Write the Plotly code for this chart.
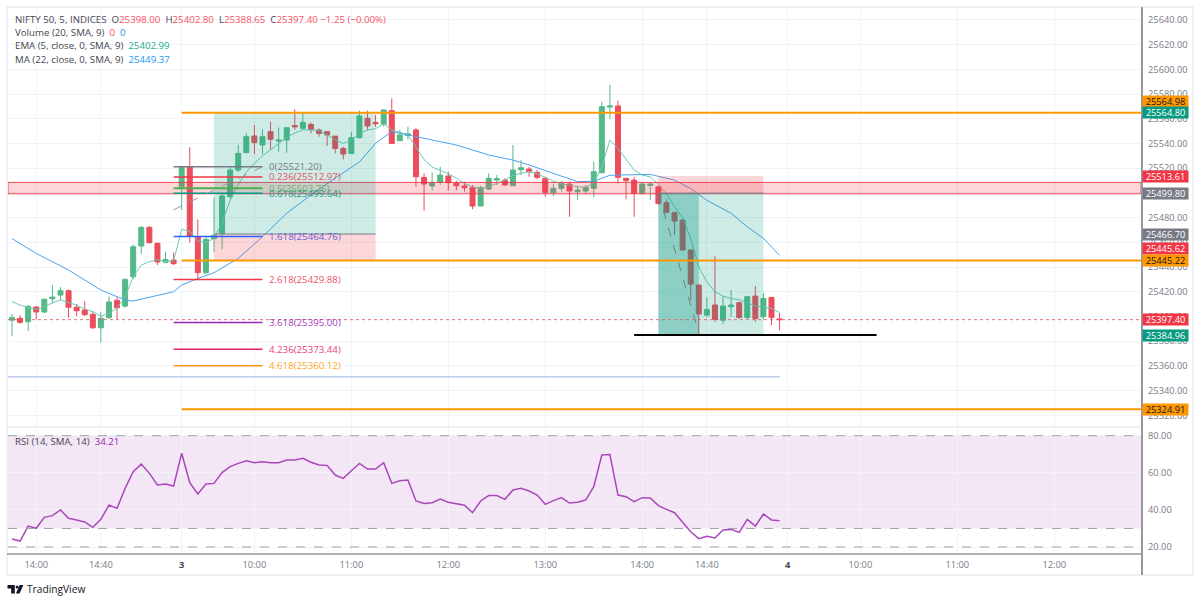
import plotly.graph_objects as go

# ---------------- DATA ----------------
bar_index = list(range(96))  # 5-minute bars: day 2 13:45 .. 15:25, day 3 09:15 .. 15:25

opens = [25397.0, 25398.5, 25395.7, 25407.6, 25403.6, 25414.3, 25417.3, 25420.8, 25407.4, 25405.2,
         25401.7, 25390.8, 25399.0, 25413.0, 25408.4, 25432.1, 25457.0, 25472.1, 25459.2, 25443.8,
         25445.7,
         25505.0, 25521.0, 25464.5, 25435.4, 25463.0, 25467.3, 25497.0, 25518.5, 25532.6, 25546.1,
         25538.8, 25549.6, 25542.0, 25542.8, 25554.5, 25552.3, 25555.5, 25550.9, 25549.6, 25546.0,
         25536.0, 25532.0, 25544.7, 25560.4, 25557.0, 25555.5, 25566.6, 25542.3, 25546.5, 25551.0,
         25512.6, 25505.6, 25508.5, 25513.7, 25507.7, 25505.6, 25504.2, 25489.4, 25503.1, 25510.4,
         25510.4, 25505.8, 25518.8, 25519.3, 25516.6, 25511.8, 25500.2, 25503.7, 25507.2, 25501.0,
         25501.5, 25503.7, 25516.4, 25569.5, 25570.4, 25511.8, 25510.4, 25499.6, 25506.1, 25505.0,
         25492.1, 25484.0, 25478.0, 25453.8, 25425.4, 25401.1, 25409.2, 25397.0, 25407.9, 25411.1,
         25399.2, 25416.5, 25399.8, 25415.4, 25398.0]
highs = [25402.0, 25401.0, 25409.2, 25408.4, 25414.3, 25425.4, 25423.8, 25421.9, 25410.0, 25412.5,
         25404.6, 25403.8, 25416.0, 25415.5, 25430.9, 25458.4, 25473.2, 25473.2, 25459.7, 25452.4,
         25451.9,
         25521.2, 25536.9, 25478.6, 25464.5, 25496.5, 25499.7, 25521.2, 25539.0, 25548.2, 25555.0,
         25551.5, 25557.7, 25553.0, 25552.8, 25567.6, 25565.0, 25557.0, 25552.3, 25549.6, 25546.0,
         25537.4, 25549.6, 25566.6, 25566.6, 25563.0, 25567.9, 25576.6, 25551.0, 25553.6, 25552.3,
         25515.8, 25516.6, 25521.2, 25517.2, 25509.9, 25509.1, 25506.4, 25505.8, 25515.8, 25514.5,
         25511.8, 25538.8, 25526.6, 25521.2, 25518.5, 25513.1, 25507.7, 25509.6, 25509.1, 25505.6,
         25506.4, 25525.3, 25573.9, 25587.4, 25574.7, 25511.8, 25513.1, 25508.0, 25508.3, 25505.6,
         25494.8, 25484.8, 25478.5, 25454.3, 25426.0, 25415.4, 25448.9, 25416.5, 25421.4, 25412.0,
         25416.0, 25424.6, 25418.6, 25415.4, 25402.8]
lows = [25384.0, 25394.0, 25388.2, 25397.6, 25402.5, 25410.6, 25413.3, 25399.0, 25400.3, 25400.6,
        25390.0, 25379.0, 25397.9, 25397.7, 25407.0, 25430.3, 25450.5, 25459.2, 25441.6, 25443.0,
        25441.6,
        25486.3, 25459.7, 25430.0, 25434.3, 25452.0, 25454.3, 25495.6, 25517.0, 25532.0, 25531.5,
        25531.5, 25534.7, 25533.4, 25532.6, 25551.0, 25551.0, 25548.2, 25545.5, 25538.0, 25532.0,
        25527.2, 25531.5, 25544.2, 25550.9, 25553.6, 25553.6, 25540.1, 25542.0, 25543.4, 25505.0,
        25485.6, 25501.8, 25506.4, 25501.8, 25502.3, 25501.0, 25486.7, 25489.4, 25502.3, 25506.4,
        25505.6, 25505.8, 25514.5, 25513.1, 25511.0, 25496.9, 25497.5, 25501.0, 25480.7, 25494.2,
        25499.0, 25496.4, 25515.8, 25559.6, 25507.7, 25494.8, 25480.7, 25498.5, 25494.2, 25490.2,
        25483.5, 25465.9, 25453.5, 25413.3, 25384.96, 25399.8, 25395.7, 25393.8, 25399.8, 25398.0,
        25398.0, 25395.7, 25397.6, 25393.0, 25388.65]
closes = [25399.0, 25395.2, 25408.2, 25403.6, 25413.9, 25415.7, 25420.8, 25407.4, 25404.6, 25401.4,
          25390.8, 25398.5, 25411.7, 25407.0, 25430.0, 25456.4, 25472.1, 25459.7, 25444.1, 25446.2,
          25442.7,
          25520.5, 25465.1, 25435.4, 25462.4, 25465.5, 25497.5, 25518.5, 25532.0, 25545.5, 25540.7,
          25545.5, 25543.4, 25542.8, 25552.8, 25553.5, 25557.1, 25551.5, 25548.2, 25546.9, 25536.0,
          25531.5, 25544.7, 25562.3, 25554.2, 25556.0, 25567.1, 25540.1, 25546.9, 25547.8, 25513.1,
          25507.2, 25508.3, 25514.4, 25508.3, 25505.8, 25504.2, 25489.4, 25504.2, 25511.8, 25511.5,
          25506.4, 25518.5, 25520.4, 25517.2, 25512.6, 25500.4, 25503.7, 25507.7, 25501.5, 25502.3,
          25504.5, 25517.2, 25569.8, 25570.4, 25512.6, 25509.9, 25499.6, 25507.2, 25507.2, 25491.5,
          25484.3, 25477.2, 25453.8, 25426.2, 25402.0, 25405.7, 25397.6, 25408.4, 25409.2, 25399.2,
          25416.0, 25398.4, 25414.6, 25399.2, 25397.4]

ema5 = [25412.0, 25409.2, 25407.4, 25405.8, 25407.9, 25411.0, 25413.3, 25411.0, 25409.2, 25406.0,
        25403.8, 25400.3, 25402.5, 25406.6, 25416.0, 25432.0, 25441.6, 25444.3, 25446.0, 25444.5,
        25445.0,
        25470.5, 25469.0, 25461.0, 25460.0, 25463.0, 25476.0, 25494.0, 25507.0, 25517.0, 25524.0,
        25530.0, 25535.0, 25540.0, 25545.0, 25548.5, 25551.0, 25551.0, 25550.5, 25547.0, 25543.0,
        25540.0, 25542.8, 25548.0, 25550.9, 25552.0, 25556.0, 25551.0, 25549.0, 25547.0, 25537.0,
        25527.0, 25521.0, 25518.5, 25515.5, 25512.0, 25507.5, 25505.0, 25503.7, 25505.0, 25507.5,
        25510.4, 25514.0, 25516.0, 25517.2, 25515.5, 25512.5, 25509.5, 25507.5, 25506.0, 25505.0,
        25504.5, 25508.0, 25521.2, 25542.8, 25536.0, 25527.0, 25518.5, 25514.5, 25513.0, 25507.0,
        25499.0, 25489.0, 25480.0, 25463.0, 25440.0, 25428.0, 25420.0, 25416.5, 25414.5, 25413.5,
        25411.0, 25408.5, 25407.5, 25406.6, 25403.0]

ma22_idx = [0, 3, 7, 11, 14, 15, 20, 21, 23, 25, 28, 31, 34, 37, 40, 43, 45, 47, 49, 51,
            55, 59, 62, 64, 67, 70, 72, 74, 79, 82, 84, 86, 89, 91, 93, 95]
ma22_val = [25463.0, 25451.0, 25437.6, 25421.4, 25413.3, 25412.5, 25420.0, 25425.4, 25430.8, 25435.4,
            25447.0, 25464.5, 25483.5, 25498.3, 25512.0, 25525.0, 25540.2, 25549.6, 25546.9, 25544.2,
            25538.8, 25530.7, 25526.6, 25522.6, 25515.8, 25509.1, 25509.5, 25514.3, 25515.0, 25510.4,
            25503.5, 25494.0, 25483.5, 25472.6, 25463.2, 25449.4]

rsi14 = [24.3, 23.2, 31.3, 30.1, 36.0, 36.9, 40.0, 35.5, 34.6, 33.5,
         30.6, 34.9, 42.6, 40.9, 51.6, 60.6, 64.7, 59.7, 53.4, 54.0,
         52.9,
         70.5, 54.7, 48.6, 54.0, 54.3, 60.1, 63.3, 65.1, 66.5, 65.4,
         66.0, 65.4, 65.4, 66.9, 66.9, 67.8, 65.7, 64.2, 64.0, 58.8,
         57.0, 61.1, 65.1, 62.0, 62.0, 65.4, 54.3, 55.7, 56.1, 44.8,
         43.5, 43.9, 45.9, 44.1, 43.3, 42.5, 38.5, 44.8, 47.7, 47.7,
         45.7, 50.7, 51.6, 50.2, 48.0, 43.0, 45.0, 46.6, 43.7, 44.1,
         45.3, 52.5, 69.6, 69.8, 48.0, 47.1, 44.4, 46.6, 46.4, 42.3,
         40.3, 38.5, 33.3, 28.2, 24.5, 25.8, 24.9, 29.2, 29.5, 27.9,
         34.9, 31.3, 37.8, 34.6, 34.2]

tick_idx = [3, 11, 21, 30, 42, 54, 66, 78, 86, 96, 105, 117, 129]
tick_text = ["14:00", "14:40", "<b><span style='color:#434651'>3</span></b>", "10:00", "11:00",
             "12:00", "13:00", "14:00", "14:40", "<b><span style='color:#434651'>4</span></b>",
             "10:00", "11:00", "12:00"]
price_ticks = list(range(25320, 25641, 20))
rsi_ticks = [20, 40, 60, 80]

fib_prices = [25521.20, 25512.97, 25503.76, 25499.64, 25464.76, 25429.88, 25395.00, 25373.44, 25360.12]
fib_names = ["0", "0.236", "0.5", "0.618", "1.618", "2.618", "3.618", "4.236", "4.618"]
fib_line_colors = ["#787b86", "#f23645", "#4caf50", "#089981", "#2962ff", "#f23645", "#9c27b0", "#e91e63", "#ff9800"]
fib_text_colors = ["#787b86", "#e8505f", "#66b36a", "#1f9a84", "#6a60dc", "#f0506a", "#a43fba", "#e8437a", "#ffa726"]
fib_start, fib_end = 20, 31
fib_trend = (25486.33, 25521.20)

orange_lines = [25564.98, 25445.22, 25324.91]
long_pos = dict(start=25, end=45, entry=25466.70, target=25564.80, stop=25445.62)
short_pos = dict(start=80, end=93, entry=25499.80, target=25384.96, stop=25513.61, hit=85)
band = (25499.3, 25508.5)
support_line = dict(price=25384.96, start=77, end=107)
blue_line = dict(price=25351.2, end=95)
last_price = 25397.40

axis_labels = [  # (value, background, text colour, shift in px)
    (25564.98, "#ff9800", "#131722", 11),
    (25564.80, "#089981", "#ffffff", 0),
    (25513.61, "#f23645", "#ffffff", 0),
    (25499.80, "#787b86", "#ffffff", 0),
    (25466.70, "#787b86", "#ffffff", 0),
    (25445.62, "#f23645", "#ffffff", 12),
    (25445.22, "#ff9800", "#131722", 0),
    (25397.40, "#f23645", "#ffffff", 0),
    (25384.96, "#089981", "#ffffff", 0),
    (25324.91, "#ff9800", "#131722", 0),
]

# ---------------- STYLE ----------------
FONT = "Open Sans, sans-serif"
FS = 9.3
UP, DN = "#53b987", "#eb4d5c"
GRID = "#f0f3fa"
L, T, W, H = 8, 8, 1133, 546
XR = [-0.495, 139.73]
PR = [25311.3, 25649.7]
RR = [16.23, 84.15]


def pxx(x):
    return (x - L) / W


def pxy(y):
    return 1 - (y - T) / H


fig = go.Figure()
fig.add_trace(go.Candlestick(
    x=bar_index, open=opens, high=highs, low=lows, close=closes,
    increasing=dict(line=dict(color=UP, width=1), fillcolor=UP),
    decreasing=dict(line=dict(color=DN, width=1), fillcolor=DN),
    whiskerwidth=0, xaxis="x", yaxis="y", showlegend=False, hoverinfo="skip"))
fig.add_trace(go.Scatter(x=bar_index, y=ema5, mode="lines", line=dict(color="#6ccbb3", width=1),
                         xaxis="x", yaxis="y", showlegend=False, hoverinfo="skip"))
fig.add_trace(go.Scatter(x=ma22_idx, y=ma22_val, mode="lines", line=dict(color="#4aa3ef", width=1),
                         xaxis="x", yaxis="y", showlegend=False, hoverinfo="skip"))
fig.add_trace(go.Scatter(x=bar_index, y=rsi14, mode="lines", line=dict(color="#ab47bc", width=1.5),
                         xaxis="x", yaxis="y2", showlegend=False, hoverinfo="skip"))

shapes = []


def line(x0, y0, x1, y1, color, width=1, dash="solid", yref="y", layer="above"):
    shapes.append(dict(type="line", xref="x", yref=yref, x0=x0, y0=y0, x1=x1, y1=y1,
                       line=dict(color=color, width=width, dash=dash), layer=layer))


def rect(x0, x1, y0, y1, fill, yref="y", layer="above", lc=None, lw=0):
    shapes.append(dict(type="rect", xref="x", yref=yref, x0=x0, x1=x1, y0=y0, y1=y1,
                       fillcolor=fill, line=dict(color=lc or fill, width=lw), layer=layer))


def pline(x0, y0, x1, y1, color, width=1):
    shapes.append(dict(type="line", xref="paper", yref="paper", x0=pxx(x0), y0=pxy(y0),
                       x1=pxx(x1), y1=pxy(y1), line=dict(color=color, width=width), layer="above"))


# RSI pane
rect(XR[0], XR[1], 30, 80, "#f3e6f5", yref="y2", layer="below")
for v in (80, 30, 20):
    line(XR[0], v, XR[1], v, "#9da0a8", 1, "dash", yref="y2")

# full-width pink band
rect(XR[0], XR[1], band[0], band[1], "rgba(242,54,69,0.2)", lc="rgba(242,54,69,0.9)", lw=1)

# long position
lp = long_pos
rect(lp["start"], lp["end"], lp["entry"], lp["target"], "rgba(8,153,129,0.2)")
rect(lp["start"], lp["end"], lp["stop"], lp["entry"], "rgba(242,54,69,0.2)")
line(lp["start"], lp["entry"], lp["end"], lp["entry"], "#787b86", 1)

# short position
sp = short_pos
rect(sp["start"], sp["end"], sp["entry"], sp["stop"], "rgba(242,54,69,0.2)")
rect(sp["start"], sp["end"], sp["target"], sp["entry"], "rgba(8,153,129,0.2)")
rect(sp["start"], sp["hit"], sp["target"], sp["entry"], "rgba(8,153,129,0.33)")
line(sp["start"], sp["entry"], sp["end"], sp["entry"], "#787b86", 1)
line(sp["start"], sp["entry"], sp["hit"], sp["target"] + 1.5, "#787b86", 1, "dash")

# fib retracement
for p, c in zip(fib_prices, fib_line_colors):
    line(fib_start, p, fib_end, p, c, 2 if c == "#4caf50" else 1.5)
line(fib_start, fib_trend[0], fib_end, fib_trend[1], "#9598a1", 1, "dash")

# horizontal rays
for p in orange_lines:
    line(21, p, XR[1], p, "#ff9800", 2)
line(support_line["start"], support_line["price"], support_line["end"], support_line["price"], "#000000", 2)
line(XR[0], blue_line["price"], blue_line["end"], blue_line["price"], "#bcccea", 1.5)
line(XR[0], last_price, XR[1], last_price, "rgba(235,77,92,0.8)", 1, "dot")

# frame / axis lines
shapes.append(dict(type="rect", xref="paper", yref="paper", x0=pxx(7), x1=pxx(1193), y0=pxy(575), y1=pxy(7),
                   line=dict(color="#e0e3eb", width=1), fillcolor="rgba(0,0,0,0)", layer="above"))
pline(7, 427, 1141, 427, "#e0e3eb", 1)
pline(7, 554, 1142, 554, "#9598a1", 1.5)
pline(1142, 7, 1142, 575, "#9598a1", 2)


# TradingView logo
def ppath(pts):
    return "M " + " L ".join(f"{pxx(a):.5f},{pxy(b):.5f}" for a, b in pts) + " Z"


shapes.append(dict(type="path", xref="paper", yref="paper",
                   path=ppath([(7.5, 585), (14.8, 585), (14.8, 593.4), (11.2, 593.4), (11.2, 588.4), (7.5, 588.4)]),
                   fillcolor="#131722", line=dict(width=0), layer="above"))
shapes.append(dict(type="circle", xref="paper", yref="paper", x0=pxx(15.6), x1=pxx(18.6), y0=pxy(588.6), y1=pxy(585.6),
                   fillcolor="#131722", line=dict(width=0), layer="above"))
shapes.append(dict(type="path", xref="paper", yref="paper",
                   path=ppath([(19.6, 585), (23.4, 585), (19.6, 593.4), (15.9, 593.4)]),
                   fillcolor="#131722", line=dict(width=0), layer="above"))

annotations = []


def ptext(x, y, text, size=FS, color="#434651"):
    annotations.append(dict(xref="paper", yref="paper", x=pxx(x), y=pxy(y), text=text, showarrow=False,
                            xanchor="left", yanchor="middle", font=dict(family=FONT, size=size, color=color)))


RED = "#f7525f"
NB = "\u00a0"


def sp_(c, t):
    return f"<span style='color:{c}'>{t}</span>"


LFS = 9.7
ptext(13, 19, "NIFTY 50, 5, INDICES" + NB * 2 + "O" + sp_(RED, "25398.00") + NB * 2 + "H" + sp_(RED, "25402.80")
      + NB * 2 + "L" + sp_(RED, "25388.65") + NB * 2 + "C" + sp_(RED, "25397.40") + NB + sp_(RED, "\u22121.25 (\u22120.00%)"),
      size=LFS)
ptext(13, 32.5, "Volume (20, SMA, 9)" + NB * 2 + sp_(RED, "0") + NB * 2 + sp_("#2196f3", "0"), size=LFS)
ptext(13, 45.5, "EMA (5, close, 0, SMA, 9)" + NB * 2 + sp_("#22ab94", "25402.99"), size=LFS)
ptext(13, 59, "MA (22, close, 0, SMA, 9)" + NB * 2 + sp_("#2196f3", "25449.37"), size=LFS)
ptext(13, 441.5, "RSI (14, SMA, 14)" + NB * 2 + sp_("#9c27b0", "34.21"), size=LFS)
ptext(25, 589, "TradingView", size=10.2, color="#131722")

# fib labels
for name, p, c in zip(fib_names, fib_prices, fib_text_colors):
    annotations.append(dict(xref="x", yref="y", x=fib_end, y=p, xshift=5, text=f"{name}({p:.2f})",
                            showarrow=False, xanchor="left", yanchor="middle",
                            font=dict(family=FONT, size=FS + 0.4, color=c)))

# right-axis price labels
for v, bg, fc, shift in axis_labels:
    annotations.append(dict(xref="paper", yref="y", x=1, y=v, xshift=1, yshift=shift, text=f"{v:.2f}",
                            showarrow=False, xanchor="left", yanchor="middle", bgcolor=bg,
                            width=45, height=11, borderpad=0, align="center",
                            font=dict(family=FONT, size=FS, color=fc)))

axis_font = dict(family=FONT, size=FS, color="#787b86")
fig.update_layout(
    width=1200, height=603, margin=dict(l=L, r=1200 - L - W, t=T, b=603 - T - H),
    paper_bgcolor="white", plot_bgcolor="white", showlegend=False, boxgap=0.12,
    font=dict(family=FONT),
    xaxis=dict(range=XR, tickvals=tick_idx, ticktext=tick_text, showgrid=True, gridcolor=GRID,
               zeroline=False, anchor="y2", rangeslider=dict(visible=False), ticks="", showline=False,
               tickfont=axis_font, automargin=False, ticklabelstandoff=4),
    yaxis=dict(domain=[pxy(426), 1], range=PR, side="right", anchor="x", tickvals=price_ticks,
               tickformat=".2f", showgrid=True, gridcolor=GRID, zeroline=False, ticks="",
               showline=False, tickfont=axis_font, automargin=False, ticklabelstandoff=6),
    yaxis2=dict(domain=[0, pxy(428)], range=RR, side="right", anchor="x", tickvals=rsi_ticks,
                tickformat=".2f", showgrid=True, gridcolor=GRID, zeroline=False, ticks="",
                showline=False, tickfont=axis_font, automargin=False, ticklabelstandoff=6),
    shapes=shapes, annotations=annotations,
)

fig.write_html("out.html")
